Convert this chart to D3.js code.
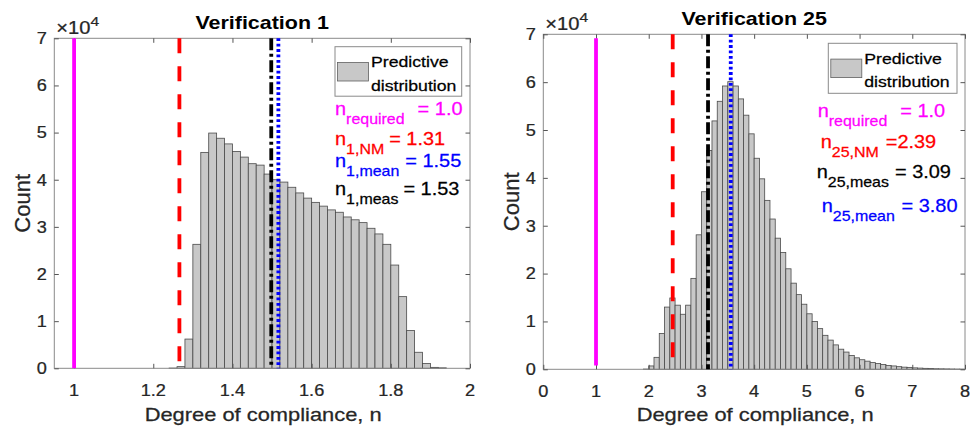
<!DOCTYPE html>
<html><head><meta charset="utf-8">
<script src="https://cdn.jsdelivr.net/npm/d3@7"></script>
<style>
body{margin:0;background:#fff}
svg{display:block}
text{font-family:"Liberation Sans",Arial,Helvetica,sans-serif}
</style>
</head><body>
<svg id="chart" width="970" height="431"></svg>
<script>
// ---------------- data ----------------
const titles = ["Verification 1", "Verification 25"];

// histogram counts in units of 10^4
const leftBinStart = 1.24, leftBinWidth = 0.02;
const leftCounts = [0.005, 0.035, 0.62, 2.63, 4.58, 4.99, 4.88, 4.76, 4.60, 4.48,
  4.34, 4.31, 4.12, 4.00, 3.95, 3.84, 3.72, 3.61, 3.52, 3.44,
  3.36, 3.31, 3.21, 3.15, 3.09, 2.97, 2.85, 2.63, 2.19, 1.52,
  0.80, 0.34, 0.10, 0.02, 0.01];

const rightBinStart = 1.9, rightBinWidth = 0.1;
const rightCounts = [0.005, 0.07, 0.25, 0.75, 1.30, 1.49, 1.34, 1.15, 1.34, 1.90,
  2.81, 3.71, 4.57, 5.19, 5.60, 5.92, 6.01, 5.92, 5.65, 5.31,
  4.92, 4.41, 3.98, 3.53, 3.14, 2.74, 2.44, 2.10, 1.80, 1.56,
  1.36, 1.16, 1.00, 0.85, 0.71, 0.61, 0.51, 0.42, 0.36, 0.29,
  0.24, 0.20, 0.17, 0.14, 0.12, 0.10, 0.08, 0.07, 0.055, 0.045,
  0.04, 0.03, 0.025, 0.02, 0.015, 0.012, 0.01, 0.008, 0.006, 0.004, 0.003];

const leftXTicks = [1, 1.2, 1.4, 1.6, 1.8, 2];
const rightXTicks = [0, 1, 2, 3, 4, 5, 6, 7, 8];
const yTicks = [0, 1, 2, 3, 4, 5, 6, 7];
const leftXDomain = [0.95, 2];
const rightXDomain = [0, 8];
const yDomain = [0, 7];

// vertical reference lines: kind, x position, y extent (10^4)
const lineKinds = ["required", "NM", "meas", "mean"];
const leftLinePos = [1.0, 1.266, 1.498, 1.516];
const rightLinePos = [1.0, 2.455, 3.125, 3.556];
const leftLineY = [[0, 7], [0, 7], [0, 7], [0, 7]];
const rightLineY = [[0.08, 6.92], [0, 7], [0, 7], [0, 7]];

// annotation text: kind, subscript, value text
const leftLabelKinds = ["required", "NM", "mean", "meas"];
const leftLabelSubs = ["required", "1,NM", "1,mean", "1,meas"];
const leftLabelVals = ["= 1.0", "= 1.31", "= 1.55", "= 1.53"];
const rightLabelKinds = ["required", "NM", "meas", "mean"];
const rightLabelSubs = ["required", "25,NM", "25,meas", "25,mean"];
const rightLabelVals = ["= 1.0", "=2.39", "= 3.09", "= 3.80"];

const legendLines = ["Predictive", "distribution"];
const xLabel = "Degree of compliance, n";
const yLabel = "Count";

// ---------------- styles ----------------
const kindStyle = {
  required: {color: "#ff00ff", dash: null},
  NM: {color: "#ff0000", dash: "15,13"},
  meas: {color: "#000000", dash: "12,3.5,3,3.5"},
  mean: {color: "#0000ff", dash: "2.8,2.6"}
};
const SX = 1.1; // horizontal text stretch of the reference

const svg = d3.select("#chart");

function stretchedText(parent, x, y, str, opts) {
  const o = Object.assign({size: 16.5, anchor: "start", fill: "#262626", weight: "normal", sx: SX, heavy: 0.25}, opts || {});
  const g = parent.append("g").attr("transform", `translate(${x},${y}) scale(${o.sx},1)`);
  const t = g.append("text").attr("text-anchor", o.anchor).attr("fill", o.fill)
    .attr("font-size", o.size).attr("font-weight", o.weight)
    .attr("stroke", o.fill).attr("stroke-width", o.heavy);
  if (str !== null) t.text(str);
  return t;
}

const panels = [
  {
    title: titles[0], binStart: leftBinStart, binW: leftBinWidth, counts: leftCounts,
    xTicks: leftXTicks, xDomain: leftXDomain, linePos: leftLinePos, lineY: leftLineY,
    labKinds: leftLabelKinds, labSubs: leftLabelSubs, labVals: leftLabelVals,
    x0: 54.3, x1: 470, yTop: 38.3, yBot: 368.3,
    legend: {x: 335, y: 46.7, w: 126.7, h: 49.5},
    ann: {xs: [335, 335, 335, 335], ys: [115, 145, 167, 195], gaps: [13, 5, 6, 5]}
  },
  {
    title: titles[1], binStart: rightBinStart, binW: rightBinWidth, counts: rightCounts,
    xTicks: rightXTicks, xDomain: rightXDomain, linePos: rightLinePos, lineY: rightLineY,
    labKinds: rightLabelKinds, labSubs: rightLabelSubs, labVals: rightLabelVals,
    x0: 543.3, x1: 965, yTop: 34.3, yBot: 369.3,
    legend: {x: 828.3, y: 43.3, w: 128.7, h: 50},
    ann: {xs: [817.7, 820.7, 816.7, 821.7], ys: [116.7, 148.3, 178.3, 211.7], gaps: [13, 7, 6, 6.7]}
  }
];

panels.forEach(p => {
  const x = d3.scaleLinear().domain(p.xDomain).range([p.x0, p.x1]);
  const y = d3.scaleLinear().domain(yDomain).range([p.yBot, p.yTop]);
  const g = svg.append("g");

  // bars
  const bins = p.counts.map((c, i) => ({x0: p.binStart + i * p.binW, x1: p.binStart + (i + 1) * p.binW, c}));
  g.append("g").selectAll("rect").data(bins).join("rect")
    .attr("x", d => x(d.x0)).attr("width", d => x(d.x1) - x(d.x0))
    .attr("y", d => y(d.c)).attr("height", d => y(0) - y(d.c))
    .attr("fill", "#c8c8c8").attr("stroke", "#4a4a4a").attr("stroke-width", 0.8);

  // frame
  g.append("rect").attr("x", p.x0).attr("y", p.yTop).attr("width", p.x1 - p.x0).attr("height", p.yBot - p.yTop)
    .attr("fill", "none").attr("stroke", "#8a8a8a").attr("stroke-width", 1);

  // axes ticks (inside, on all sides)
  const tl = 4.5;
  const axB = d3.axisBottom(x).tickValues(p.xTicks).tickSizeInner(-tl).tickSizeOuter(0).tickFormat("");
  const axT = d3.axisTop(x).tickValues(p.xTicks).tickSizeInner(-tl).tickSizeOuter(0).tickFormat("");
  const axL = d3.axisLeft(y).tickValues(yTicks).tickSizeInner(-tl).tickSizeOuter(0).tickFormat("");
  const axR = d3.axisRight(y).tickValues(yTicks).tickSizeInner(-tl).tickSizeOuter(0).tickFormat("");
  [[axB, `translate(0,${p.yBot})`], [axT, `translate(0,${p.yTop})`],
   [axL, `translate(${p.x0},0)`], [axR, `translate(${p.x1},0)`]].forEach(([ax, tr]) => {
    const a = g.append("g").attr("transform", tr).call(ax);
    a.select(".domain").remove();
    a.selectAll("line").attr("stroke", "#555").attr("stroke-width", 1);
  });

  // tick labels
  p.xTicks.forEach(v => stretchedText(g, x(v), p.yBot + 27.5, d3.format("~g")(v), {anchor: "middle"}));
  yTicks.forEach(v => stretchedText(g, p.x0 - 7.5, y(v) + 5.8, String(v), {anchor: "end"}));

  // x10^4
  const ex = stretchedText(g, p.x0 + 2, p.yTop - 4.8, null, {size: 17.5, sx: 1.15});
  ex.append("tspan").text("\u00d710");
  ex.append("tspan").attr("font-size", 13.5).attr("dy", -7.5).text("4");

  // title
  stretchedText(g, (p.x0 + p.x1) / 2, p.yTop - 9.8, p.title, {anchor: "middle", size: 18.5, weight: "bold", fill: "#000", sx: 1.16, heavy: 0});

  // axis labels
  stretchedText(g, (p.x0 + p.x1) / 2 + 1, 421, xLabel, {anchor: "middle", size: 17.5, sx: 1.25});
  g.append("text").attr("transform", `translate(${p.x0 - 24.5},${(p.yTop + p.yBot) / 2}) rotate(-90)`)
    .attr("text-anchor", "middle").attr("font-size", 22).attr("fill", "#262626")
    .attr("stroke", "#262626").attr("stroke-width", 0.25).text(yLabel);

  // vertical reference lines
  lineKinds.forEach((k, i) => {
    const st = kindStyle[k];
    const ln = g.append("line")
      .attr("x1", x(p.linePos[i])).attr("x2", x(p.linePos[i]))
      .attr("y1", y(p.lineY[i][1])).attr("y2", y(p.lineY[i][0]))
      .attr("stroke", st.color).attr("stroke-width", 3.8);
    if (st.dash) ln.attr("stroke-dasharray", st.dash);
  });

  // legend
  const L = p.legend;
  g.append("rect").attr("x", L.x).attr("y", L.y).attr("width", L.w).attr("height", L.h)
    .attr("fill", "#fff").attr("stroke", "#8a8a8a").attr("stroke-width", 1);
  g.append("rect").attr("x", L.x + 2.5).attr("y", L.y + 15.8).attr("width", 31).attr("height", 18.5)
    .attr("fill", "#c8c8c8").attr("stroke", "#606060").attr("stroke-width", 0.8);
  legendLines.forEach((s, i) => stretchedText(g, L.x + 36, L.y + 20.3 + i * 23.5, s, {size: 15.5, sx: 1.14, fill: "#000"}));

  // annotations
  p.labKinds.forEach((k, i) => {
    const t = stretchedText(g, p.ann.xs[i], p.ann.ys[i], null, {size: 17.5, sx: 1.14, fill: kindStyle[k].color});
    t.append("tspan").text("n");
    t.append("tspan").attr("font-size", 14).attr("dy", 9).text(p.labSubs[i]);
    t.append("tspan").attr("dy", -9).attr("dx", p.ann.gaps[i] / 1.14).text(p.labVals[i]);
  });
});
</script>
</body></html>
